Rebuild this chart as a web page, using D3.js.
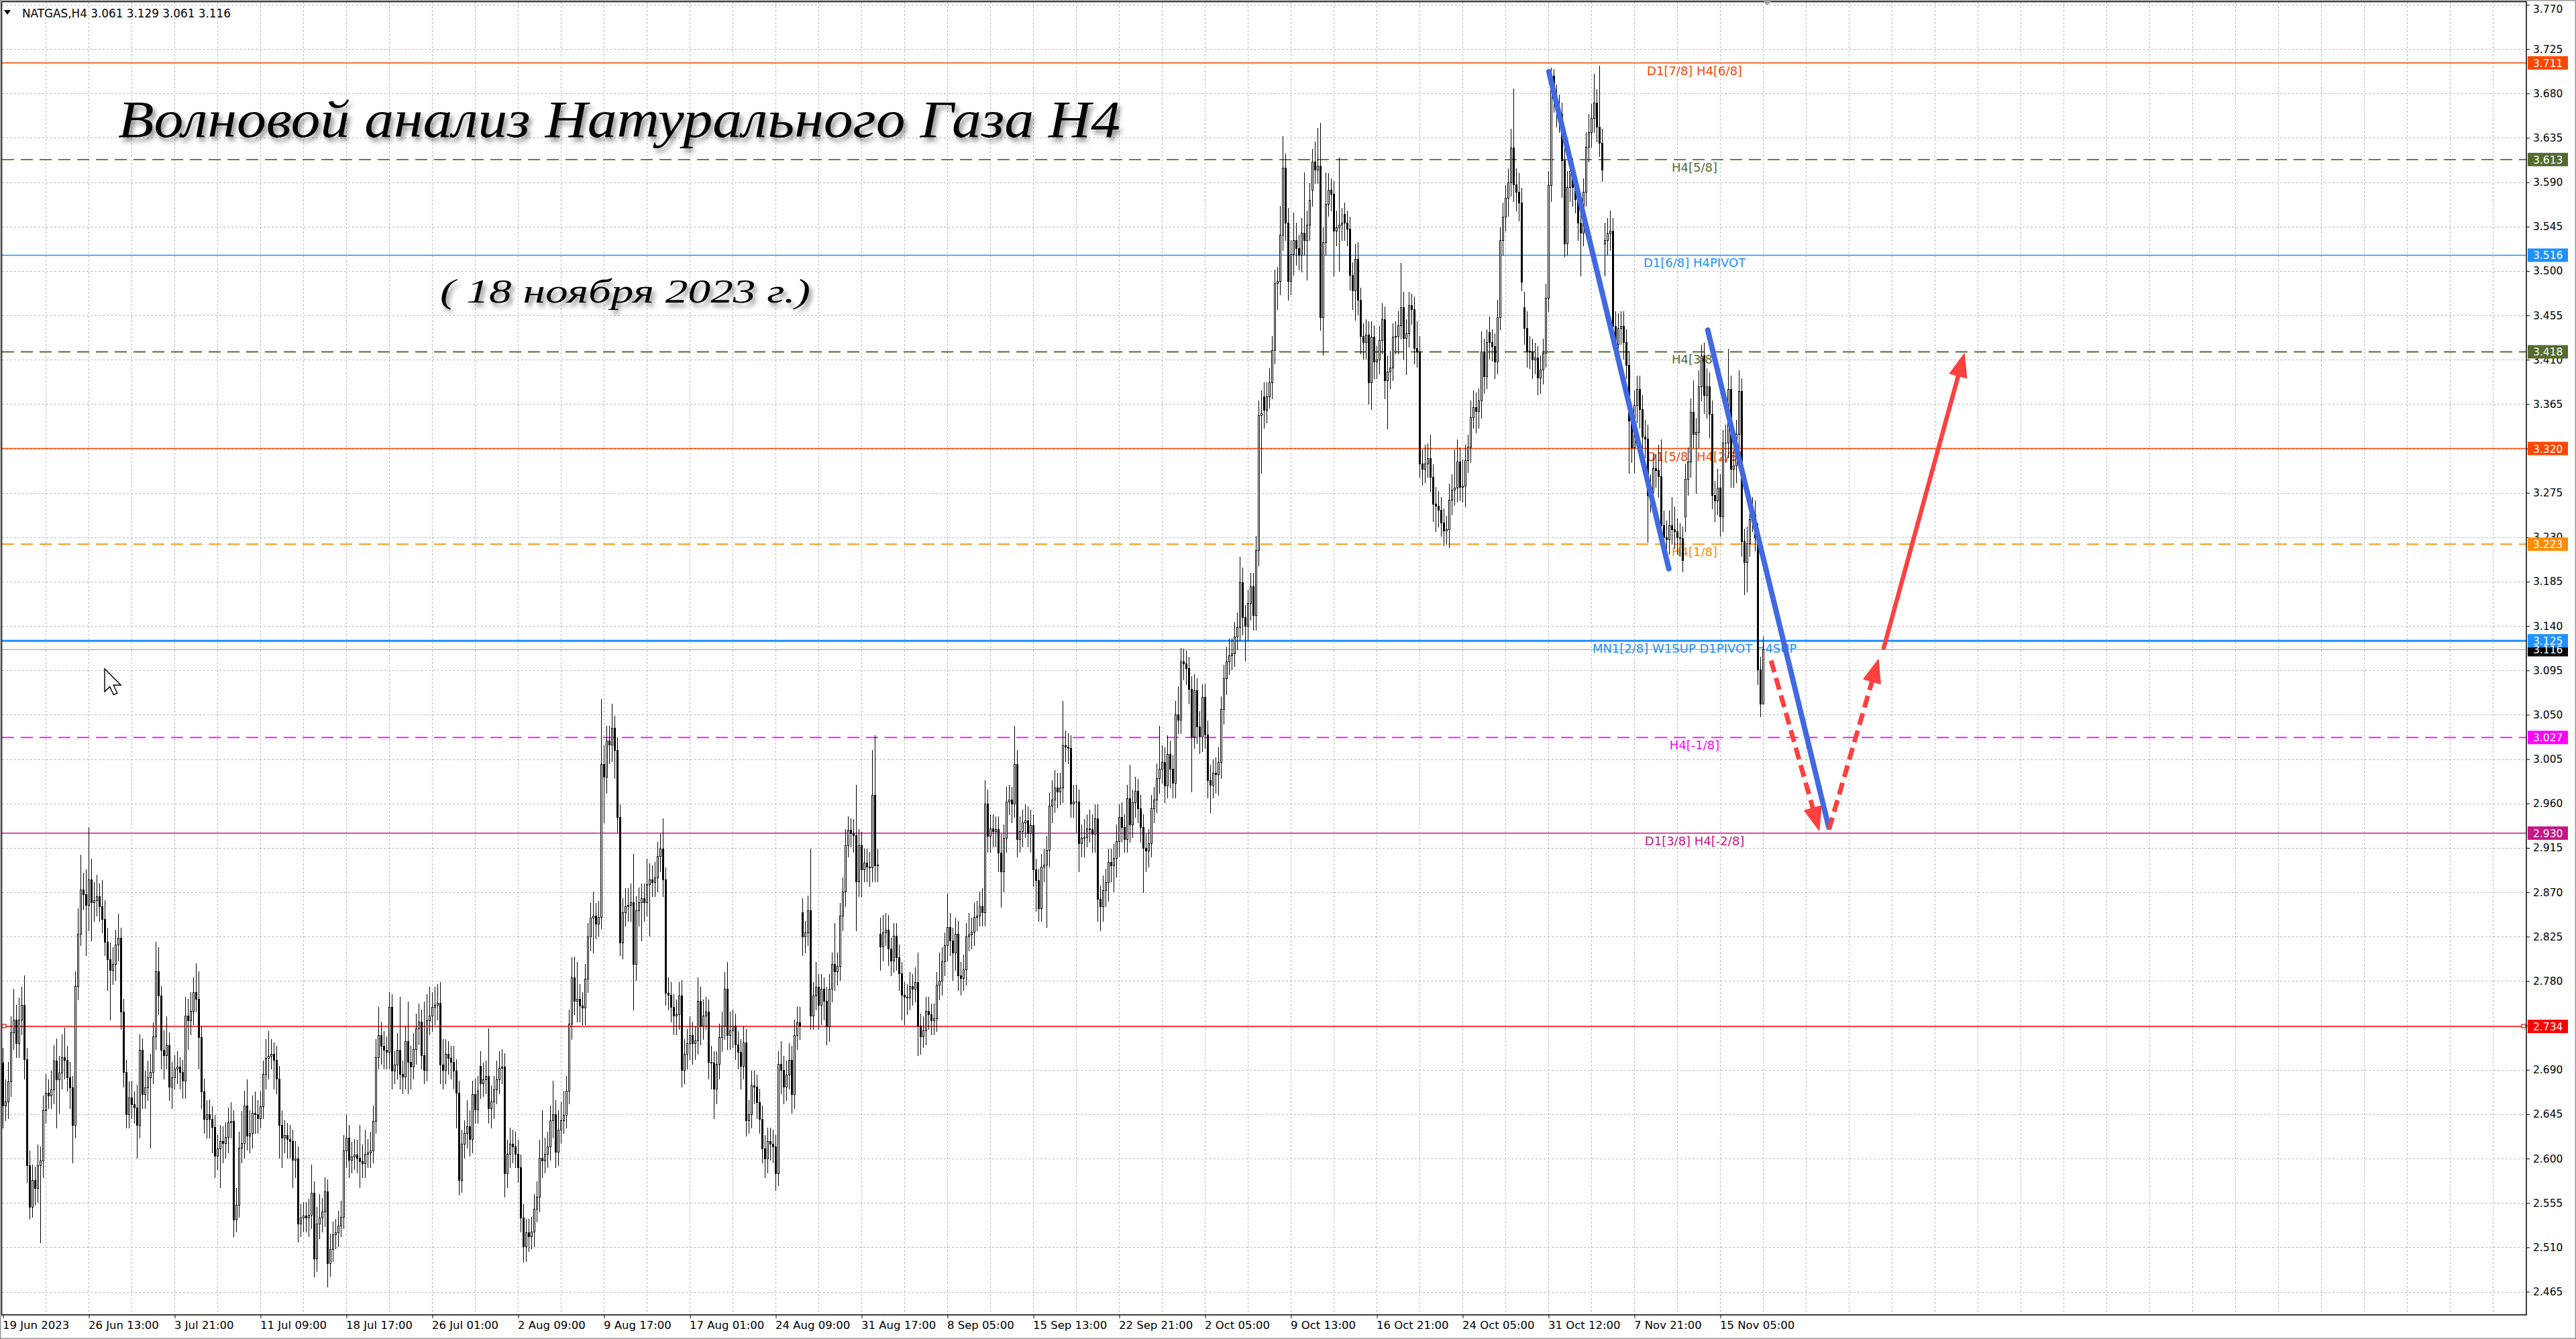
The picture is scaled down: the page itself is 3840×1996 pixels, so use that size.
<!DOCTYPE html>
<html>
<head>
<meta charset="utf-8">
<script src="https://d3js.org/d3.v7.min.js"></script>
<style>
  html, body { margin: 0; padding: 0; background: #fff; overflow: hidden; }
  svg { display: block; }
</style>
</head>
<body>
<script>
// NATGAS H4 candles, prices in thousandths (3116 = 3.116)
const barOpen = [
  2697,2654,2658,2678,2728,2741,2717,2741,2756,2701,
  2593,2551,2578,2570,2593,2598,2649,2667,2664,2670,
  2699,2680,2687,2703,2700,2682,2672,2634,2775,2828,
  2873,2868,2857,2883,2860,2862,2866,2856,2843,2820,
  2802,2791,2797,2817,2824,2749,2688,2645,2662,2655,
  2652,2634,2710,2665,2672,2682,2688,2724,2790,2765,
  2710,2705,2715,2673,2682,2691,2693,2688,2679,2745,
  2740,2750,2769,2762,2723,2668,2640,2645,2640,2632,
  2603,2610,2618,2616,2622,2637,2638,2538,2553,2611,
  2616,2654,2623,2626,2646,2645,2641,2653,2686,2702,
  2704,2706,2700,2681,2634,2621,2624,2620,2618,2599,
  2600,2534,2540,2542,2540,2543,2565,2499,2534,2540,
  2546,2567,2494,2508,2523,2525,2532,2541,2608,2621,
  2599,2602,2604,2601,2597,2595,2605,2606,2608,2638,
  2703,2725,2714,2710,2708,2754,2689,2695,2710,2686,
  2683,2719,2698,2693,2711,2732,2739,2705,2690,2740,
  2745,2754,2756,2758,2695,2690,2706,2702,2698,2689,
  2667,2578,2615,2626,2633,2620,2665,2650,2694,2676,
  2680,2684,2651,2658,2670,2680,2692,2693,2585,2605,
  2615,2612,2605,2591,2540,2511,2525,2521,2526,2549,
  2561,2601,2598,2605,2612,2639,2645,2607,2629,2639,
  2644,2669,2737,2784,2760,2762,2755,2753,2782,2825,
  2844,2846,2838,2845,3000,2987,3024,3020,3037,3014,
  2946,2819,2850,2856,2857,2860,2797,2852,2860,2864,
  2860,2878,2883,2880,2885,2907,2914,2883,2768,2766,
  2754,2745,2746,2765,2690,2706,2717,2725,2717,2720,
  2760,2735,2745,2749,2698,2697,2671,2696,2723,2735,
  2772,2725,2730,2735,2716,2708,2694,2718,2639,2645,
  2674,2673,2657,2640,2610,2600,2618,2615,2612,2585,
  2696,2690,2673,2685,2700,2665,2725,2738,2850,2825,
  2829,2852,2745,2765,2774,2756,2772,2760,2734,2772,
  2797,2790,2795,2846,2871,2918,2933,2930,2928,2881,
  2918,2893,2900,2896,2895,2969,2897,2828,2815,2829,
  2832,2813,2801,2826,2804,2788,2766,2764,2763,2775,
  2772,2779,2735,2724,2730,2750,2746,2740,2742,2776,
  2780,2800,2816,2835,2821,2809,2828,2786,2783,2792,
  2825,2827,2830,2845,2846,2856,2850,2960,2927,2935,
  2932,2934,2910,2891,2925,2962,2964,2960,3000,2924,
  2932,2941,2943,2930,2938,2893,2882,2854,2896,2898,
  2913,2958,2964,2976,2972,2976,3019,3018,3016,2960,
  2962,2962,2920,2925,2926,2935,2934,2929,2945,2863,
  2856,2872,2880,2901,2897,2905,2922,2946,2936,2924,
  2965,2939,2961,2973,2955,2936,2915,2912,2920,2955,
  2964,2986,2995,3002,2978,3010,2995,2981,3050,3045,
  3104,3102,3097,3076,3028,3075,3038,3028,3068,3030,
  2984,2979,2991,2990,3002,3056,3087,3104,3110,3112,
  3129,3139,3184,3149,3140,3163,3180,3151,3217,3354,
  3373,3359,3373,3387,3420,3488,3490,3537,3605,3549,
  3490,3517,3531,3523,3516,3539,3531,3547,3582,3611,
  3603,3607,3453,3529,3568,3582,3578,3541,3544,3547,
  3558,3549,3543,3496,3480,3512,3471,3434,3428,3435,
  3387,3433,3408,3410,3430,3451,3389,3398,3402,3433,
  3434,3445,3463,3432,3437,3465,3461,3422,3418,3305,
  3299,3305,3310,3291,3264,3262,3258,3245,3237,3238,
  3268,3278,3280,3307,3281,3282,3308,3322,3352,3362,
  3358,3369,3418,3393,3438,3428,3424,3408,3453,3531,
  3555,3574,3590,3625,3588,3580,3569,3463,3442,3419,
  3418,3410,3412,3392,3400,3417,3473,3587,3698,3676,
  3665,3659,3612,3528,3585,3601,3585,3573,3549,3539,
  3580,3626,3641,3655,3671,3646,3630,3528,3531,3538,
  3541,3444,3426,3442,3444,3428,3405,3348,3321,3364,
  3380,3360,3332,3330,3273,3276,3300,3298,3292,3242,
  3230,3228,3242,3238,3236,3230,3229,3251,3289,3307,
  3357,3335,3337,3383,3414,3374,3383,3355,3273,3267,
  3280,3251,3326,3326,3380,3299,3303,3335,3378,3226,
  3205,3224,3248,3253,3230,3096,3061
];
const barClose = [
  2654,2658,2678,2728,2741,2717,2741,2756,2701,2593,
  2551,2578,2570,2593,2598,2649,2667,2664,2670,2699,
  2680,2687,2703,2700,2682,2672,2634,2775,2828,2873,
  2868,2857,2883,2860,2862,2866,2856,2843,2820,2802,
  2791,2797,2817,2824,2749,2688,2645,2662,2655,2652,
  2634,2710,2665,2672,2682,2688,2724,2790,2765,2710,
  2705,2715,2673,2682,2691,2693,2688,2679,2745,2740,
  2750,2769,2762,2723,2668,2640,2645,2640,2632,2603,
  2610,2618,2616,2622,2637,2638,2538,2553,2611,2616,
  2654,2623,2626,2646,2645,2641,2653,2686,2702,2704,
  2706,2700,2681,2634,2621,2624,2620,2618,2599,2600,
  2534,2540,2542,2540,2543,2565,2499,2534,2540,2546,
  2567,2494,2508,2523,2525,2532,2541,2608,2621,2599,
  2602,2604,2601,2597,2595,2605,2606,2608,2638,2703,
  2725,2714,2710,2708,2754,2689,2695,2710,2686,2683,
  2719,2698,2693,2711,2732,2739,2705,2690,2740,2745,
  2754,2756,2758,2695,2690,2706,2702,2698,2689,2667,
  2578,2615,2626,2633,2620,2665,2650,2669,2676,2680,
  2684,2651,2658,2670,2680,2692,2693,2585,2605,2615,
  2612,2605,2591,2540,2511,2525,2521,2526,2549,2561,
  2601,2598,2605,2612,2639,2645,2607,2629,2639,2644,
  2669,2737,2784,2760,2762,2755,2753,2782,2825,2844,
  2846,2838,2845,3000,2987,3024,3020,3037,3014,2946,
  2819,2850,2856,2857,2860,2797,2852,2860,2864,2860,
  2878,2883,2880,2885,2907,2914,2883,2768,2766,2754,
  2745,2746,2765,2690,2706,2717,2725,2717,2720,2760,
  2735,2745,2749,2698,2697,2671,2696,2723,2735,2772,
  2725,2730,2735,2716,2708,2694,2718,2639,2645,2674,
  2673,2657,2640,2610,2600,2618,2615,2612,2585,2696,
  2690,2673,2685,2700,2665,2725,2738,2735,2825,2829,
  2852,2745,2765,2774,2756,2772,2760,2734,2772,2797,
  2790,2795,2846,2871,2918,2933,2930,2928,2881,2918,
  2893,2900,2896,2895,2969,2897,2898,2815,2829,2832,
  2813,2801,2826,2804,2788,2766,2764,2763,2775,2772,
  2779,2735,2724,2730,2750,2746,2740,2742,2776,2780,
  2800,2816,2835,2821,2809,2828,2786,2783,2792,2825,
  2827,2830,2845,2846,2856,2850,2960,2927,2935,2932,
  2934,2910,2891,2925,2962,2964,2960,3000,2924,2932,
  2941,2943,2930,2938,2893,2882,2854,2896,2898,2913,
  2958,2964,2976,2972,2976,3019,3018,3016,2960,2962,
  2962,2920,2925,2926,2935,2934,2929,2945,2863,2856,
  2872,2880,2901,2897,2905,2922,2946,2936,2924,2965,
  2939,2961,2973,2955,2936,2915,2912,2920,2955,2964,
  2986,2995,3002,2978,3010,2995,2981,3050,3045,3104,
  3102,3097,3076,3028,3075,3038,3028,3068,3030,2984,
  2979,2991,2990,3002,3056,3087,3104,3110,3112,3129,
  3139,3184,3149,3140,3163,3180,3151,3217,3354,3356,
  3359,3373,3387,3420,3488,3490,3537,3605,3549,3490,
  3517,3531,3523,3516,3539,3531,3547,3572,3611,3603,
  3607,3453,3529,3568,3582,3578,3541,3544,3547,3549,
  3549,3543,3496,3480,3512,3471,3434,3428,3435,3387,
  3433,3408,3410,3430,3451,3389,3398,3402,3433,3434,
  3445,3463,3432,3437,3465,3461,3422,3418,3305,3299,
  3305,3310,3291,3264,3262,3258,3245,3237,3238,3268,
  3278,3280,3307,3281,3282,3308,3322,3352,3362,3358,
  3369,3418,3393,3428,3428,3424,3408,3453,3531,3555,
  3574,3590,3625,3588,3580,3569,3489,3442,3419,3418,
  3410,3412,3392,3400,3417,3473,3587,3698,3676,3665,
  3659,3612,3528,3585,3601,3585,3573,3549,3539,3580,
  3626,3641,3655,3671,3646,3630,3603,3531,3538,3541,
  3444,3426,3442,3444,3428,3405,3348,3321,3364,3380,
  3360,3332,3330,3273,3276,3300,3298,3292,3242,3230,
  3228,3242,3238,3236,3230,3229,3207,3289,3307,3357,
  3335,3337,3383,3414,3374,3383,3355,3273,3267,3280,
  3251,3326,3326,3380,3299,3303,3335,3378,3226,3205,
  3224,3248,3253,3230,3096,3061,3116
];
const barHigh = [
  2712,2680,2698,2744,2772,2756,2763,2774,2786,2712,
  2608,2594,2592,2614,2612,2664,2686,2680,2689,2715,
  2722,2704,2726,2733,2714,2698,2684,2790,2854,2908,
  2890,2893,2936,2904,2880,2888,2879,2882,2862,2834,
  2819,2814,2832,2848,2834,2762,2700,2678,2679,2668,
  2675,2726,2722,2689,2699,2706,2738,2820,2814,2775,
  2730,2744,2728,2698,2705,2709,2703,2700,2764,2762,
  2769,2784,2798,2790,2734,2681,2659,2660,2653,2644,
  2624,2634,2633,2637,2652,2657,2649,2570,2627,2648,
  2669,2680,2649,2664,2668,2659,2668,2699,2721,2729,
  2721,2718,2714,2694,2649,2639,2636,2634,2629,2618,
  2612,2554,2556,2556,2559,2594,2577,2551,2564,2560,
  2581,2579,2524,2536,2539,2547,2557,2624,2644,2634,
  2617,2620,2619,2634,2614,2629,2620,2627,2654,2721,
  2754,2739,2729,2724,2769,2767,2709,2727,2764,2699,
  2734,2759,2714,2727,2747,2757,2751,2759,2767,2774,
  2769,2774,2777,2779,2721,2721,2719,2714,2714,2701,
  2679,2629,2639,2659,2649,2679,2681,2684,2709,2697,
  2699,2732,2674,2684,2699,2709,2711,2707,2619,2631,
  2629,2627,2619,2604,2554,2539,2539,2541,2564,2577,
  2619,2649,2621,2627,2654,2679,2659,2649,2657,2669,
  2684,2751,2804,2805,2799,2777,2769,2797,2839,2859,
  2871,2859,2861,3066,3019,3039,3039,3061,3049,3027,
  2959,2864,2874,2874,2879,2909,2866,2875,2879,2879,
  2904,2899,2897,2901,2921,2929,2945,2895,2784,2779,
  2767,2761,2779,2781,2721,2731,2744,2739,2734,2784,
  2774,2761,2764,2761,2714,2709,2709,2737,2749,2789,
  2799,2749,2751,2747,2729,2721,2734,2731,2659,2689,
  2689,2685,2671,2654,2624,2631,2631,2629,2624,2709,
  2719,2704,2699,2717,2714,2741,2754,2754,2864,2841,
  2867,2914,2779,2799,2787,2787,2784,2774,2787,2809,
  2839,2809,2859,2885,2934,2947,2945,2944,2979,2934,
  2931,2914,2914,2911,3014,3029,2914,2844,2847,2849,
  2847,2824,2839,2839,2817,2799,2779,2777,2789,2787,
  2794,2809,2747,2744,2764,2764,2757,2757,2789,2809,
  2814,2829,2869,2849,2834,2844,2841,2799,2807,2839,
  2849,2844,2859,2861,2871,2874,2984,2974,2949,2949,
  2947,2947,2929,2939,2977,2979,2977,3039,3014,2947,
  2954,2959,2957,2954,2949,2904,2894,2909,2914,2927,
  2971,2984,2994,2991,2991,3064,3034,3031,3029,2979,
  2979,2974,2939,2944,2949,2954,2949,2959,2959,2877,
  2887,2894,2914,2914,2919,2939,2959,2961,2949,2979,
  2999,2974,2987,2985,2969,2949,2929,2934,2969,2977,
  3001,3039,3019,3017,3029,3024,3009,3064,3079,3118,
  3117,3115,3109,3089,3091,3087,3054,3081,3081,3044,
  2999,3005,3007,3017,3069,3101,3119,3127,3127,3144,
  3154,3210,3199,3161,3177,3194,3194,3231,3369,3379,
  3387,3387,3401,3434,3501,3504,3566,3637,3619,3564,
  3531,3559,3549,3537,3554,3600,3561,3589,3624,3631,
  3645,3650,3544,3600,3599,3594,3591,3561,3615,3564,
  3569,3561,3555,3509,3527,3529,3483,3447,3451,3449,
  3449,3445,3424,3444,3467,3464,3414,3419,3447,3449,
  3459,3508,3479,3451,3479,3477,3474,3449,3434,3319,
  3324,3325,3334,3304,3281,3277,3271,3259,3252,3284,
  3294,3319,3329,3321,3309,3324,3334,3369,3379,3377,
  3381,3439,3431,3441,3454,3441,3437,3471,3544,3569,
  3587,3604,3644,3685,3604,3599,3584,3479,3459,3434,
  3431,3427,3424,3414,3431,3487,3601,3706,3705,3689,
  3679,3671,3629,3601,3617,3614,3599,3587,3561,3594,
  3641,3659,3669,3700,3684,3708,3644,3549,3554,3561,
  3554,3459,3457,3459,3459,3441,3419,3361,3379,3394,
  3394,3374,3349,3344,3294,3314,3314,3324,3329,3257,
  3247,3257,3271,3261,3249,3244,3241,3304,3321,3371,
  3389,3351,3399,3425,3427,3401,3397,3369,3287,3299,
  3294,3339,3344,3421,3394,3319,3349,3399,3391,3239,
  3241,3261,3271,3267,3244,3109,3129
];
const barLow = [
  2631,2639,2641,2663,2711,2703,2703,2726,2681,2576,
  2539,2541,2553,2556,2515,2581,2636,2651,2651,2656,
  2631,2646,2671,2681,2669,2651,2596,2621,2761,2816,
  2853,2806,2831,2821,2841,2846,2841,2829,2806,2771,
  2741,2777,2781,2801,2731,2673,2631,2631,2641,2636,
  2601,2621,2651,2651,2659,2611,2676,2711,2746,2691,
  2681,2691,2659,2651,2671,2676,2671,2661,2661,2711,
  2726,2736,2749,2691,2651,2626,2621,2621,2606,2581,
  2589,2571,2596,2601,2606,2621,2521,2526,2541,2596,
  2601,2609,2606,2611,2626,2626,2631,2641,2671,2681,
  2691,2671,2666,2601,2591,2606,2601,2601,2571,2581,
  2516,2521,2526,2526,2521,2529,2480,2486,2519,2526,
  2531,2470,2481,2496,2509,2511,2521,2529,2591,2581,
  2586,2589,2586,2571,2581,2581,2591,2591,2596,2626,
  2691,2696,2691,2691,2691,2671,2676,2681,2671,2666,
  2671,2666,2671,2681,2696,2716,2691,2676,2679,2726,
  2729,2736,2741,2676,2671,2676,2686,2681,2671,2631,
  2563,2566,2601,2611,2603,2606,2636,2636,2661,2663,
  2666,2636,2631,2641,2656,2666,2676,2561,2571,2591,
  2596,2591,2576,2526,2495,2496,2506,2509,2511,2536,
  2546,2581,2586,2591,2599,2621,2591,2593,2616,2626,
  2631,2656,2721,2746,2739,2739,2736,2736,2769,2811,
  2809,2823,2826,2833,2941,2971,3001,3003,2986,2931,
  2806,2803,2836,2841,2841,2751,2781,2836,2821,2841,
  2846,2826,2866,2866,2871,2891,2866,2756,2751,2739,
  2726,2726,2731,2673,2676,2691,2701,2696,2701,2706,
  2716,2721,2731,2681,2671,2641,2656,2681,2709,2721,
  2711,2711,2713,2701,2691,2671,2681,2623,2626,2631,
  2656,2641,2626,2596,2581,2586,2599,2596,2568,2573,
  2666,2656,2659,2671,2646,2651,2711,2721,2806,2809,
  2816,2731,2731,2751,2731,2736,2741,2716,2719,2759,
  2771,2776,2781,2831,2856,2906,2916,2911,2831,2866,
  2866,2881,2881,2876,2881,2881,2881,2791,2801,2816,
  2796,2786,2789,2791,2771,2741,2736,2746,2751,2756,
  2759,2705,2706,2713,2716,2731,2726,2726,2729,2761,
  2766,2786,2801,2806,2781,2791,2771,2766,2771,2776,
  2811,2813,2816,2831,2836,2836,2836,2911,2911,2916,
  2916,2891,2855,2871,2911,2949,2941,2946,2906,2911,
  2916,2926,2916,2911,2876,2851,2841,2841,2881,2835,
  2896,2941,2951,2956,2959,2961,3003,3001,2946,2946,
  2931,2891,2906,2906,2916,2921,2911,2911,2841,2831,
  2841,2856,2861,2881,2871,2886,2906,2921,2911,2911,
  2921,2926,2946,2941,2921,2870,2891,2896,2906,2941,
  2951,2971,2981,2961,2966,2976,2966,2966,3031,3031,
  3086,3081,3061,2972,3016,3021,3011,3013,3016,2966,
  2951,2966,2971,2969,2986,3041,3071,3091,3096,3099,
  3116,3126,3131,3105,3126,3146,3136,3136,3201,3295,
  3341,3346,3361,3371,3406,3461,3476,3521,3531,3471,
  3476,3496,3506,3501,3499,3516,3491,3531,3566,3589,
  3589,3440,3415,3516,3556,3561,3495,3526,3500,3531,
  3531,3526,3481,3461,3450,3456,3416,3411,3411,3365,
  3360,3391,3391,3396,3416,3371,3340,3381,3389,3416,
  3416,3431,3411,3395,3423,3446,3406,3403,3291,3283,
  3286,3291,3276,3246,3236,3241,3231,3222,3223,3220,
  3253,3263,3266,3267,3266,3261,3296,3306,3341,3336,
  3341,3351,3376,3381,3411,3409,3391,3396,3441,3516,
  3541,3556,3576,3571,3561,3551,3480,3426,3403,3401,
  3391,3396,3375,3376,3386,3403,3459,3571,3661,3646,
  3641,3575,3515,3516,3571,3566,3559,3531,3495,3526,
  3566,3611,3626,3641,3631,3616,3591,3495,3516,3521,
  3431,3411,3400,3426,3411,3391,3295,3306,3296,3346,
  3341,3316,3311,3225,3256,3261,3281,3271,3226,3211,
  3211,3213,3223,3219,3213,3211,3195,3236,3273,3291,
  3321,3275,3321,3369,3356,3351,3331,3259,3246,3253,
  3231,3236,3306,3311,3281,3281,3286,3321,3211,3172,
  3175,3211,3236,3216,3081,3048,3061
];

// time axis: a label every 32 bars
const timeLabelBars = [0,32,64,96,128,160,192,224,256,288,320,352,384,416,448,480,512,544,576,608,640];
const timeLabels = ["19 Jun 2023","26 Jun 13:00","3 Jul 21:00","11 Jul 09:00","18 Jul 17:00","26 Jul 01:00",
  "2 Aug 09:00","9 Aug 17:00","17 Aug 01:00","24 Aug 09:00","31 Aug 17:00","8 Sep 05:00","15 Sep 13:00",
  "22 Sep 21:00","2 Oct 05:00","9 Oct 13:00","16 Oct 21:00","24 Oct 05:00","31 Oct 12:00","7 Nov 21:00","15 Nov 05:00"];

const priceTicks = [2.465,2.510,2.555,2.600,2.645,2.690,2.735,2.780,2.825,2.870,2.915,2.960,3.005,3.050,3.095,
  3.140,3.185,3.230,3.275,3.320,3.365,3.410,3.455,3.500,3.545,3.590,3.635,3.680,3.725,3.770];

// Murrey / pivot levels
const levelPrices = [3.711, 3.613, 3.516, 3.418, 3.320, 3.223, 3.125, 3.027, 2.930, 2.734];
const levelNames = ["D1[7/8] H4[6/8]", "H4[5/8]", "D1[6/8] H4PIVOT", "H4[3/8]", "D1[5/8] H4[2/8]", "H4[1/8]",
  "MN1[2/8] W1SUP D1PIVOT H4SUP", "H4[-1/8]", "D1[3/8] H4[-2/8]", ""];
const bidPrice = 3.116;

// hand drawn wave lines, [bar, price]
const waveLines = [
  [[576.1, 3.702], [620.8, 3.198]],
  [[635.3, 3.440], [680.4, 2.936]]
];
const forecastArrows = [
  [[658.9, 3.105], [676.8, 2.933]],
  [[680.5, 2.934], [698.9, 3.106]],
  [[700.9, 3.118], [730.9, 3.416]]
];

const titleText = "Волновой анализ Натурального Газа H4";
const dateText = "( 18 ноября 2023 г.)";
const headerText = "NATGAS,H4  3.061 3.129 3.061 3.116";

// styles
const levelColor = ["#FF4500","#556B2F","#1E90FF","#556B2F","#FF4500","#FF8C00","#1E90FF","#FF00FF","#C71585","#FF0000"];
const levelDashed = [false,true,false,true,false,true,false,true,false,false];

const width = 3840, height = 1996;
const plotRight = 3766, plotBottom = 1960;
const font = "'DejaVu Sans', Verdana, sans-serif";

const x = d3.scaleLinear().domain([0, 940]).range([4.5, 4.5 + 940 * 4]);
const y = d3.scaleLinear().domain([2.465, 3.770]).range([1925.5, 7]);

const svg = d3.select("body").append("svg")
  .attr("width", width)
  .attr("height", height);

const defs = svg.append("defs");
const shadow = defs.append("filter").attr("id", "shadow")
  .attr("x", "-5%").attr("y", "-30%").attr("width", "110%").attr("height", "160%");
shadow.append("feDropShadow")
  .attr("dx", 4).attr("dy", 6).attr("stdDeviation", 3.5)
  .attr("flood-color", "#000").attr("flood-opacity", 0.45);

svg.append("rect").attr("width", width).attr("height", height).attr("fill", "#fff");

// grid
const grid = svg.append("g")
  .attr("stroke", "#b9b9b9")
  .attr("stroke-width", 1)
  .attr("stroke-dasharray", "3,3")
  .attr("shape-rendering", "crispEdges");

grid.selectAll("line.h")
  .data(priceTicks)
  .enter().append("line")
  .attr("class", "h")
  .attr("x1", 3).attr("x2", plotRight)
  .attr("y1", d => Math.round(y(d)) + 0.5)
  .attr("y2", d => Math.round(y(d)) + 0.5);

grid.selectAll("line.v")
  .data(d3.range(16, 940, 16))
  .enter().append("line")
  .attr("class", "v")
  .attr("x1", d => x(d)).attr("x2", d => x(d))
  .attr("y1", 3).attr("y2", plotBottom);

// level lines
const levels = svg.append("g");
levels.append("line")
  .attr("x1", 3).attr("x2", plotRight)
  .attr("y1", y(bidPrice)).attr("y2", y(bidPrice))
  .attr("stroke", "#a8a8a8").attr("stroke-width", 1.2);

levels.selectAll("line.level")
  .data(levelPrices)
  .enter().append("line")
  .attr("class", "level")
  .attr("x1", 3).attr("x2", plotRight)
  .attr("y1", d => y(d)).attr("y2", d => y(d))
  .attr("stroke", (d, i) => levelColor[i])
  .attr("stroke-width", (d, i) => d === 3.125 ? 3 : (levelDashed[i] ? 1.8 : 1.5))
  .attr("stroke-dasharray", (d, i) => levelDashed[i] ? "18,10" : null);

levels.selectAll("text")
  .data(levelPrices)
  .enter().append("text")
  .attr("x", x(630.4))
  .attr("y", d => y(d) + 18)
  .attr("text-anchor", "middle")
  .attr("font-family", font)
  .attr("font-size", 18)
  .attr("fill", (d, i) => levelColor[i])
  .text((d, i) => levelNames[i]);

// selection handles on the 2.734 line
[6, plotRight - 4].forEach(hx => {
  levels.append("rect")
    .attr("x", hx - 3).attr("y", Math.round(y(2.734)) - 3)
    .attr("width", 6).attr("height", 5)
    .attr("fill", "#fff").attr("stroke", "#FF0000").attr("stroke-width", 1.2);
});

// candles: filled pixel rects (1px wick, 3px body, bull bodies hollow)
const candles = svg.append("g").attr("shape-rendering", "crispEdges");
const bars = d3.range(barClose.length).map(i => {
  const o = barOpen[i] / 1000, h = barHigh[i] / 1000, l = barLow[i] / 1000, c = barClose[i] / 1000;
  const top = Math.round(y(Math.max(o, c)));
  const bodyH = Math.max(1, Math.round(y(Math.min(o, c))) - top + 1);
  return { i, o, h, l, c, top, bodyH, left: Math.round(x(i) - 1.5) };
});

candles.selectAll("rect.wick")
  .data(bars)
  .enter().append("rect")
  .attr("class", "wick")
  .attr("x", d => d.left + 1).attr("width", 1)
  .attr("y", d => Math.round(y(d.h)))
  .attr("height", d => Math.round(y(d.l)) - Math.round(y(d.h)) + 1)
  .attr("fill", "#000");

candles.selectAll("rect.body")
  .data(bars)
  .enter().append("rect")
  .attr("class", "body")
  .attr("x", d => d.left).attr("width", 3)
  .attr("y", d => d.top).attr("height", d => d.bodyH)
  .attr("fill", "#000");

candles.selectAll("rect.hollow")
  .data(bars.filter(d => d.c > d.o && d.bodyH > 2))
  .enter().append("rect")
  .attr("class", "hollow")
  .attr("x", d => d.left + 1).attr("width", 1)
  .attr("y", d => d.top + 1).attr("height", d => d.bodyH - 2)
  .attr("fill", "#fff");

// wave lines
svg.append("g").selectAll("line")
  .data(waveLines)
  .enter().append("line")
  .attr("x1", d => x(d[0][0])).attr("y1", d => y(d[0][1]))
  .attr("x2", d => x(d[1][0])).attr("y2", d => y(d[1][1]))
  .attr("stroke", "#4169E1").attr("stroke-width", 8).attr("stroke-linecap", "round");

// forecast arrows
const arrows = svg.append("g").attr("fill", "#FF4040").attr("stroke", "#FF4040");
forecastArrows.forEach((a, k) => {
  const x1 = x(a[0][0]), y1 = y(a[0][1]), x2 = x(a[1][0]), y2 = y(a[1][1]);
  const ang = Math.atan2(y2 - y1, x2 - x1);
  const headLen = 34, headW = 13;
  const bx = x2 - headLen * Math.cos(ang), by = y2 - headLen * Math.sin(ang);
  arrows.append("line")
    .attr("x1", x1).attr("y1", y1).attr("x2", bx).attr("y2", by)
    .attr("stroke-width", k < 2 ? 7 : 6.5)
    .attr("stroke-linecap", k < 2 ? "butt" : "round")
    .attr("stroke-dasharray", k < 2 ? "18,9" : null);
  const pts = [
    [x2, y2],
    [bx + headW * Math.sin(ang), by - headW * Math.cos(ang)],
    [bx - headW * Math.sin(ang), by + headW * Math.cos(ang)]
  ];
  arrows.append("polygon")
    .attr("stroke-width", 1.5).attr("stroke-linejoin", "round")
    .attr("points", pts.map(p => p.join(",")).join(" "));
});

// frame
svg.append("rect")
  .attr("x", 2.5).attr("y", 2.5)
  .attr("width", plotRight - 2.5).attr("height", plotBottom - 2.5)
  .attr("fill", "none").attr("stroke", "#000").attr("stroke-width", 1.5);

// price axis
const yAxis = svg.append("g")
  .attr("transform", `translate(${plotRight},0)`)
  .call(d3.axisRight(y).tickValues(priceTicks).tickFormat(d3.format(".3f")).tickSize(5).tickPadding(5));
yAxis.select(".domain").remove();
yAxis.selectAll("text").attr("font-family", font).attr("font-size", 15.5).attr("fill", "#000")
  .filter(d => d === 3.770).attr("dy", "0.75em");
yAxis.selectAll("line").attr("stroke", "#000");

// time axis
const xAxis = svg.append("g")
  .attr("transform", `translate(0,${plotBottom})`)
  .call(d3.axisBottom(x).tickValues(timeLabelBars).tickFormat((d, i) => timeLabels[i]).tickSize(5).tickPadding(4));
xAxis.select(".domain").remove();
xAxis.selectAll("text")
  .attr("font-family", font).attr("font-size", 16.5).attr("fill", "#000")
  .attr("text-anchor", "start").attr("dx", -1);
xAxis.selectAll("line").attr("stroke", "#000");

// price tags on the axis
const tags = svg.append("g");
const tagData = [bidPrice].concat(levelPrices);
const tagColor = ["#000"].concat(levelColor);
tags.selectAll("rect")
  .data(tagData)
  .enter().append("rect")
  .attr("x", plotRight + 2).attr("y", d => y(d) - 10)
  .attr("width", 60).attr("height", 20)
  .attr("fill", (d, i) => tagColor[i]);
tags.selectAll("text")
  .data(tagData)
  .enter().append("text")
  .attr("x", plotRight + 10).attr("y", d => y(d) + 6)
  .attr("font-family", font).attr("font-size", 15.5)
  .attr("fill", "#fff")
  .text(d => d3.format(".3f")(d));

// chart shift marker
svg.append("polygon")
  .attr("points", `${x(657.5) - 7},1 ${x(657.5) + 7},1 ${x(657.5)},8`)
  .attr("fill", "#a0a0a0");

// header
svg.append("polygon").attr("points", "6,15 16,15 11,22").attr("fill", "#000");
svg.append("text")
  .attr("x", 33).attr("y", 26)
  .attr("font-family", "'DejaVu Sans Condensed', 'Liberation Sans Narrow', sans-serif")
  .attr("font-size", 17)
  .attr("textLength", 311).attr("lengthAdjust", "spacingAndGlyphs")
  .text(headerText);

// titles
svg.append("text")
  .attr("x", 176).attr("y", 204)
  .attr("font-family", "'Liberation Serif', 'DejaVu Serif', serif")
  .attr("font-style", "italic")
  .attr("font-size", 78)
  .attr("textLength", 1494).attr("lengthAdjust", "spacingAndGlyphs")
  .attr("filter", "url(#shadow)")
  .text(titleText);

svg.append("text")
  .attr("x", 656).attr("y", 451)
  .attr("font-family", "'Liberation Serif', 'DejaVu Serif', serif")
  .attr("font-style", "italic")
  .attr("font-size", 50)
  .attr("textLength", 552).attr("lengthAdjust", "spacingAndGlyphs")
  .attr("filter", "url(#shadow)")
  .text(dateText);

// mouse pointer
svg.append("path")
  .attr("transform", "translate(156,997) scale(1.1)")
  .attr("d", "M0,0 L0,31 L7,24 L12,35 L17,33 L12,22 L22,22 Z")
  .attr("fill", "#fff").attr("stroke", "#000").attr("stroke-width", 1.3);

// window edge
svg.append("rect")
  .attr("x", 0.75).attr("y", 0.75).attr("width", width - 1.5).attr("height", height - 1.5)
  .attr("fill", "none").attr("stroke", "#9a9a9a").attr("stroke-width", 1.5);
</script>
</body>
</html>
